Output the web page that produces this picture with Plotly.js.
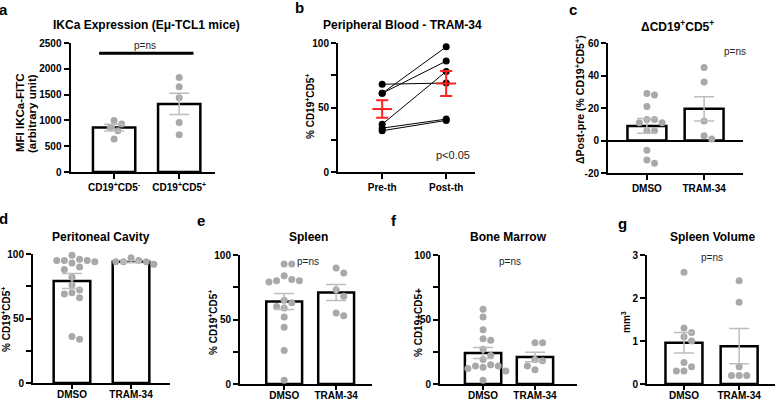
<!DOCTYPE html>
<html><head><meta charset="utf-8">
<script src="https://cdn.plot.ly/plotly-3.0.1.min.js"></script>
<style>html,body{margin:0;padding:0;background:#fff}#chart{width:778px;height:401px}</style>
</head><body><div id="chart"></div>
<script>
// ---------- DATA ----------
// Panel a
const aCategories = ['CD19<sup>+</sup>CD5<sup>-</sup>', 'CD19<sup>+</sup>CD5<sup>+</sup>'];
const aMeans = [860, 1320];
const aSem = [65, 205];
const aCd5Neg = [1000, 930, 860, 800, 640];
const aCd5Pos = [1830, 1650, 1440, 960, 720];
// Panel b
const bCategories = ['Pre-th', 'Post-th'];
const bPre = [68, 61, 61, 37, 34, 32];
const bPost = [69, 97, 86, 78, 41, 40];
const bMeans = [48.8, 68.6];
const bSem = [6.8, 9.7];
// Shared categories c-g
const treatCategories = ['DMSO', 'TRAM-34'];
// Panel c
const cMeans = [9, 19.5];
const cSem = [4.5, 7.5];
const cDmso = [29, 28, 21, 13, 13, 11, 11, 6, 6, -6, -12, -14];
const cTram = [45, 36, 12, 3, 1];
// Panel d
const dMeans = [79, 94];
const dSem = [5.8, 0.7];
const dDmso = [99, 96, 95, 95, 95, 94, 93, 90, 88, 82, 76, 72, 70, 69, 66, 36, 34];
const dTram = [97, 95, 94, 94, 94, 92];
// Panel e
const eMeans = [64, 71];
const eSem = [6.2, 6.2];
const eDmso = [93, 93, 84, 81, 80, 80, 79, 65, 63, 60, 59, 52, 44, 26, 3];
const eTram = [90, 86, 73, 68, 55, 53];
// Panel f
const fMeans = [24, 21];
const fSem = [4.2, 3.7];
const fDmso = [58, 52, 42, 35, 34, 27, 22, 19, 15, 14, 14, 13, 12, 10, 3];
const fTram = [32, 32, 19, 18, 14, 11];
// Panel g
const gMeans = [0.96, 0.88];
const gSem = [0.24, 0.41];
const gDmso = [2.6, 1.3, 1.2, 1.1, 1.0, 0.5, 0.4, 0.3, 0.3];
const gTram = [2.4, 1.9, 0.4, 0.2, 0.2, 0.2];

// ---------- LAYOUT HELPERS ----------
const W = 778, H = 401;
const FONT = 'Liberation Sans, Arial, sans-serif';
const GRAY = '#a9a9a9';
const ERR = '#bdbdbd';
const panels = [
  {id:'',  box:[70.5,43,215,172],  xr:[-0.67,1.55], yr:[0,2500], bw:0.65,
   tv:[0,500,1000,1500,2000,2500], tt:['0','500','1000','1500','2000','2500'], cats:aCategories},
  {id:'2', box:[338,43,475,172], xr:[-0.69,1.45], yr:[0,100], bw:0,
   tv:[0,25,50,75,100], tt:['0','','50','','100'], cats:bCategories},
  {id:'3', box:[608,43,743,173], xr:[-0.68,1.68], yr:[-20,60], bw:0.68,
   tv:[-20,0,20,40,60], tt:['-20','0','20','40','60'], cats:treatCategories, zero:true},
  {id:'4', box:[33,254,170,383], xr:[-0.66,1.66], yr:[0,100], bw:0.62,
   tv:[0,25,50,75,100], tt:['0','','50','','100'], cats:treatCategories, bottom:true},
  {id:'5', box:[240,255,372,384], xr:[-0.85,1.69], yr:[0,100], bw:0.69,
   tv:[0,25,50,75,100], tt:['0','','50','','100'], cats:treatCategories, bottom:true},
  {id:'6', box:[440,255,577,384], xr:[-0.83,1.81], yr:[0,100], bw:0.70,
   tv:[0,25,50,75,100], tt:['0','','50','','100'], cats:treatCategories, bottom:true},
  {id:'7', box:[647,255,775,384], xr:[-0.67,1.65], yr:[0,3], bw:0.67,
   tv:[0,1,2,3], tt:['0','1','2','3'], cats:treatCategories, bottom:true}
];

const layout = {
  width: W, height: H, margin:{l:0,r:0,t:0,b:0},
  paper_bgcolor:'#fff', plot_bgcolor:'rgba(0,0,0,0)',
  showlegend:false, font:{family:FONT, color:'#000', size:10},
  annotations:[], shapes:[]
};
const traces = [];

panels.forEach(p => {
  const [x0,y0,x1,y1] = p.box;
  layout['xaxis'+p.id] = {
    domain:[x0/W, x1/W], range:p.xr, anchor:'y'+p.id, fixedrange:true,
    tickmode:'array', tickvals:[0,1], ticktext:p.cats,
    showline:true, linecolor:'#000', linewidth:2,
    ticks:'outside', ticklen:p.bottom?4:5, tickwidth:2, tickcolor:'#000',
    ticklabelstandoff: p.bottom ? -3 : 0,
    showgrid:false, zeroline:false,
    tickfont:{family:FONT, size:10, color:'#000', weight:'bold'}
  };
  layout['yaxis'+p.id] = {
    domain:[1-y1/H, 1-y0/H], range:p.yr, anchor:'x'+p.id, fixedrange:true,
    tickmode:'array', tickvals:p.tv, ticktext:p.tt,
    showline:true, linecolor:'#000', linewidth:2,
    ticks:'outside', ticklen:5, tickwidth:2, tickcolor:'#000',
    showgrid:false, zeroline:!!p.zero, zerolinecolor:'#000', zerolinewidth:2,
    tickfont:{family:FONT, size:10, color:'#000', weight:'bold'}
  };
  p.pxX = (x1-x0)/(p.xr[1]-p.xr[0]);
  p.pxY = (y1-y0)/(p.yr[1]-p.yr[0]);
});

// beeswarm placement of points around a category centre (pixel space)
function swarm(values, center, p, diam) {
  const order = values.map((v,i)=>i).sort((i,j)=>values[j]-values[i]);
  const placed = [];
  const xs = new Array(values.length);
  const s = diam/2;
  for (const i of order) {
    const yp = values[i]*p.pxY;
    for (let step=0; step<60; step++) {
      const k = Math.ceil(step/2);
      const off = (step===0?0:(step%2?1:-1)*k*s);
      const ok = placed.every(q => Math.hypot(q[0]-off, q[1]-yp) >= diam-0.01);
      if (ok) { placed.push([off,yp]); xs[i] = center + off/p.pxX; break; }
    }
  }
  return xs;
}

function barPanel(p, means, sem, groups) {
  const xa = 'x'+p.id, ya = 'y'+p.id;
  traces.push({type:'bar', x:[0,1], y:means, width:p.bw, xaxis:xa, yaxis:ya,
    marker:{color:'#fff', line:{color:'#000', width:2.5}}, hoverinfo:'skip'});
  groups.forEach((vals, gi) => {
    traces.push({type:'scatter', mode:'markers', xaxis:xa, yaxis:ya, cliponaxis:false,
      x:swarm(vals, gi, p, 7.6), y:vals,
      marker:{color:GRAY, size:7, line:{width:0}}, hoverinfo:'skip'});
  });
  traces.push({type:'scatter', mode:'markers', xaxis:xa, yaxis:ya, x:[0,1], y:means,
    marker:{size:1, color:'rgba(0,0,0,0)'}, cliponaxis:false,
    error_y:{type:'data', array:sem, visible:true, color:ERR, thickness:1.5, width:10},
    hoverinfo:'skip'});
}

barPanel(panels[0], aMeans, aSem, [aCd5Neg, aCd5Pos]);
barPanel(panels[2], cMeans, cSem, [cDmso, cTram]);
barPanel(panels[3], dMeans, dSem, [dDmso, dTram]);
barPanel(panels[4], eMeans, eSem, [eDmso, eTram]);
barPanel(panels[5], fMeans, fSem, [fDmso, fTram]);
barPanel(panels[6], gMeans, gSem, [gDmso, gTram]);

// Panel b paired lines
bPre.forEach((v,i) => {
  traces.push({type:'scatter', mode:'lines+markers', xaxis:'x2', yaxis:'y2', cliponaxis:false,
    x:[0,1], y:[v, bPost[i]], line:{color:'#000', width:1},
    marker:{color:'#000', size:7}, hoverinfo:'skip'});
});
traces.push({type:'scatter', mode:'markers', xaxis:'x2', yaxis:'y2', x:[0,1], y:bMeans,
  cliponaxis:false,
  marker:{symbol:'line-ew-open', size:14, color:'#ff2020', line:{color:'#ff2020', width:2}},
  error_y:{type:'data', array:bSem, visible:true, color:'#ff2020', thickness:2, width:6},
  hoverinfo:'skip'});

// ---------- TEXT ----------
function pann(text, x, y, size, bold, extra) {
  layout.annotations.push(Object.assign({
    text: text, xref:'paper', yref:'paper', x:x/W, y:1-y/H,
    xanchor:'center', yanchor:'middle', showarrow:false,
    font:{family:FONT, size:size, color:'#000', weight: bold?'bold':'normal'}
  }, extra||{}));
}
// panel letters
[['a',4,9],['b',299,8],['c',573,9],['d',4,218],['e',201,220],['f',394,220],['g',622,223]]
  .forEach(l => pann(l[0], l[1], l[2], 15, true));
// titles
pann('IKCa Expression (Eμ-TCL1 mice)', 146, 25, 12, true);
pann('Peripheral Blood - TRAM-34', 402, 25, 12, true);
pann('ΔCD19<sup>+</sup>CD5<sup>+</sup>', 677, 26, 12, true);
pann('Peritoneal Cavity', 101, 237, 12, true);
pann('Spleen', 308, 237, 12, true);
pann('Bone Marrow', 508, 237, 12, true);
pann('Spleen Volume', 712, 237, 12, true);
// y titles
pann('MFI IKCa-FITC', 20, 113, 11.5, true, {textangle:-90});
pann('(arbitrary unit)', 32, 113, 11.5, true, {textangle:-90});
pann('% CD19<sup>+</sup>CD5<sup>+</sup>', 310, 107, 10, true, {textangle:-90});
pann('ΔPost-pre (% CD19<sup>+</sup>CD5<sup>+</sup>)', 579, 100, 10.5, true, {textangle:-90});
pann('% CD19<sup>+</sup>CD5<sup>+</sup>', 6, 320, 10, true, {textangle:-90});
pann('% CD19<sup>+</sup>CD5<sup>+</sup>', 213, 323, 10, true, {textangle:-90});
pann('% CD19+CD5+', 418, 323, 10, true, {textangle:-90});
pann('mm<sup>3</sup>', 626, 322, 10, true, {textangle:-90});

// p-values in data coords
function dann(text, id, x, y, size) {
  layout.annotations.push({text:text, xref:'x'+id, yref:'y'+id, x:x, y:y, showarrow:false,
    xanchor:'center', yanchor:'middle', font:{family:FONT, size:size, color:'#222'}});
}
dann('p=ns', '', 0.48, 2460, 10);
dann('p<0.05', '2', 1.11, 13, 11);
dann('p=ns', '3', 1.54, 54.5, 10);
dann('p=ns', '4', 0.51, 101.5, 10);
dann('p=ns', '5', 0.46, 94.6, 10);
dann('p=ns', '6', 0.52, 94.6, 10);
dann('p=ns', '7', 0.51, 2.95, 10);

layout.shapes.push({type:'line', xref:'x', yref:'y', x0:-0.23, x1:1.22, y0:2300, y1:2300,
  line:{color:'#000', width:3}});

Plotly.newPlot('chart', traces, layout, {displayModeBar:false, staticPlot:true});
</script>
</body></html>
